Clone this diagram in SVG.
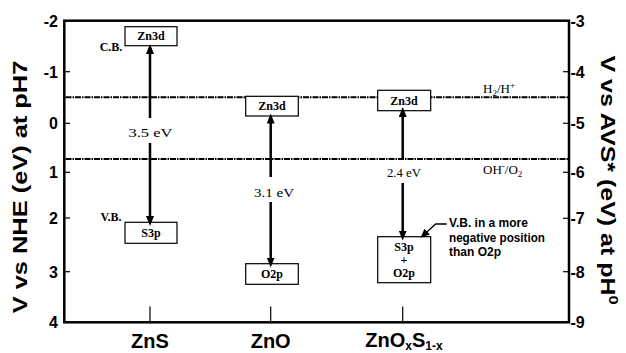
<svg xmlns="http://www.w3.org/2000/svg" width="626" height="353" viewBox="0 0 626 353">
<style>
.frame{fill:none;stroke:#000;stroke-width:2.5}
.tick{stroke:#000;stroke-width:1.2}
.ref{stroke:#000;stroke-width:2;stroke-dasharray:6 1 1.5 1;fill:none}
.box{fill:#fff;stroke:#000;stroke-width:1.2}
.arr{stroke:#000;stroke-width:2.5;fill:none;marker-end:url(#ah)}
.ax{font-family:"Liberation Sans",Arial,sans-serif;font-weight:bold;font-size:16px;fill:#000}
.title{font-family:"Liberation Sans",Arial,sans-serif;font-weight:bold;font-size:20px;fill:#000}
.cat{font-family:"Liberation Sans",Arial,sans-serif;font-weight:bold;font-size:20px;fill:#000;text-anchor:middle}
.bt{font-family:"Liberation Serif","Times New Roman",serif;font-weight:bold;font-size:12px;fill:#000;text-anchor:middle}
.lbl{font-family:"Liberation Serif","Times New Roman",serif;font-size:13px;fill:#000}
.note{font-family:"Liberation Sans",Arial,sans-serif;font-weight:bold;font-size:12px;fill:#000}
</style>
<defs>
<marker id="ah" markerUnits="userSpaceOnUse" markerWidth="10" markerHeight="8" refX="6" refY="4" orient="auto">
<path d="M0,0 L10,4 L0,8 z" fill="#000"/>
</marker>
<marker id="ah2" markerUnits="userSpaceOnUse" markerWidth="9" markerHeight="8" refX="5" refY="4" orient="auto">
<path d="M0,0 L9,4 L0,8 z" fill="#000"/>
</marker>
</defs>

<g id="axes">
<rect class="frame" x="64.3" y="20.7" width="504.7" height="301.6"/>
<g class="tick">
<line x1="64.3" y1="71.7" x2="70" y2="71.7"/>
<line x1="64.3" y1="123.3" x2="70" y2="123.3"/>
<line x1="64.3" y1="172.3" x2="70" y2="172.3"/>
<line x1="64.3" y1="218" x2="70" y2="218"/>
<line x1="64.3" y1="271.7" x2="70" y2="271.7"/>
<line x1="563" y1="71.7" x2="569" y2="71.7"/>
<line x1="563" y1="123.3" x2="569" y2="123.3"/>
<line x1="563" y1="172.3" x2="569" y2="172.3"/>
<line x1="563" y1="218.3" x2="569" y2="218.3"/>
<line x1="563" y1="271.7" x2="569" y2="271.7"/>
<line x1="150" y1="306.5" x2="150" y2="322"/>
<line x1="270.7" y1="306.5" x2="270.7" y2="322"/>
<line x1="402.7" y1="306.5" x2="402.7" y2="322"/>
</g>
<g class="ax" text-anchor="end">
<text x="58" y="27">-2</text>
<text x="58" y="77.5">-1</text>
<text x="58" y="129">0</text>
<text x="58" y="178">1</text>
<text x="58" y="223.5">2</text>
<text x="58" y="277.5">3</text>
<text x="58" y="328">4</text>
</g>
<g class="ax">
<text x="570.5" y="27">-3</text>
<text x="570.5" y="77.5">-4</text>
<text x="570.5" y="129">-5</text>
<text x="570.5" y="178">-6</text>
<text x="570.5" y="224">-7</text>
<text x="570.5" y="277.5">-8</text>
<text x="570.5" y="328">-9</text>
</g>
<text class="title" text-anchor="middle" transform="translate(27,187) rotate(-90) scale(1.27,1)">V vs NHE (eV) at pH7</text>
<text class="title" text-anchor="middle" transform="translate(601,180) rotate(90) scale(1.25,1)">V vs AVS* (eV) at pH<tspan font-size="13" dy="-8">0</tspan></text>
<text class="cat" x="150" y="348">ZnS</text>
<text class="cat" x="270.7" y="348">ZnO</text>
<text class="cat" x="404" y="347">ZnO<tspan font-size="12" dy="3">x</tspan><tspan dy="-3">S</tspan><tspan font-size="12" dy="3">1-x</tspan></text>
</g>

<g id="redox">
<line class="ref" x1="65.5" y1="97.3" x2="568" y2="97.3"/>
<line class="ref" x1="65.5" y1="159" x2="568" y2="159"/>
<text class="lbl" x="483" y="93">H<tspan font-size="9" dy="3">2</tspan><tspan dy="-3">/H</tspan><tspan font-size="9" dy="-5">+</tspan></text>
<text class="lbl" x="483" y="174" font-size="12">OH<tspan font-size="9" dy="-5">-</tspan><tspan dy="5">/O</tspan><tspan font-size="9" dy="3">2</tspan></text>
</g>

<g id="zns-cb">
<rect class="box" x="125" y="26.7" width="52" height="19"/>
<text class="bt" x="151" y="40">Zn3d</text>
<text class="bt" x="111" y="51" font-size="11">C.B.</text>
</g>
<g id="zns-vb">
<rect class="box" x="125" y="222.3" width="52" height="21"/>
<text class="bt" x="151" y="237">S3p</text>
<text class="bt" x="111" y="221" font-size="11">V.B.</text>
</g>
<g id="zno-cb">
<rect class="box" x="245.7" y="96.3" width="52.6" height="19.7"/>
<text class="bt" x="272" y="110">Zn3d</text>
</g>
<g id="zno-vb">
<rect class="box" x="245.7" y="263.7" width="52.6" height="20.6"/>
<text class="bt" x="272" y="278">O2p</text>
</g>
<g id="znos-cb">
<rect class="box" x="377.7" y="90.3" width="53" height="20.4"/>
<text class="bt" x="404" y="105">Zn3d</text>
</g>
<g id="znos-vb">
<rect class="box" x="377.7" y="236.7" width="53" height="46"/>
<text class="bt" x="404" y="251">S3p</text>
<text class="bt" x="404" y="264">+</text>
<text class="bt" x="404" y="277">O2p</text>
</g>
<g id="note">
<text class="note" x="449" y="226.5">V.B. in a more</text>
<text class="note" x="449" y="241.7" textLength="96" lengthAdjust="spacingAndGlyphs">negative position</text>
<text class="note" x="449" y="256">than O2p</text>
</g>

<g id="connectors">
<line class="arr" x1="150" y1="118" x2="150" y2="48"/>
<line class="arr" x1="150" y1="143" x2="150" y2="222"/>
<text class="lbl" x="150.5" y="137" text-anchor="middle" textLength="44" lengthAdjust="spacingAndGlyphs">3.5 eV</text>
<line class="arr" x1="270.7" y1="177" x2="270.7" y2="117.5"/>
<line class="arr" x1="270.7" y1="202" x2="270.7" y2="263.5"/>
<text class="lbl" x="274" y="197" text-anchor="middle" textLength="40" lengthAdjust="spacingAndGlyphs">3.1 eV</text>
<line class="arr" x1="402.7" y1="160" x2="402.7" y2="111"/>
<line class="arr" x1="402.7" y1="183" x2="402.7" y2="236.5"/>
<text class="lbl" x="404" y="177" text-anchor="middle" textLength="34" lengthAdjust="spacingAndGlyphs">2.4 eV</text>
<polyline points="446.7,224 435.7,224 423.5,235" fill="none" stroke="#000" stroke-width="1.3" marker-end="url(#ah2)"/>
</g>
</svg>
